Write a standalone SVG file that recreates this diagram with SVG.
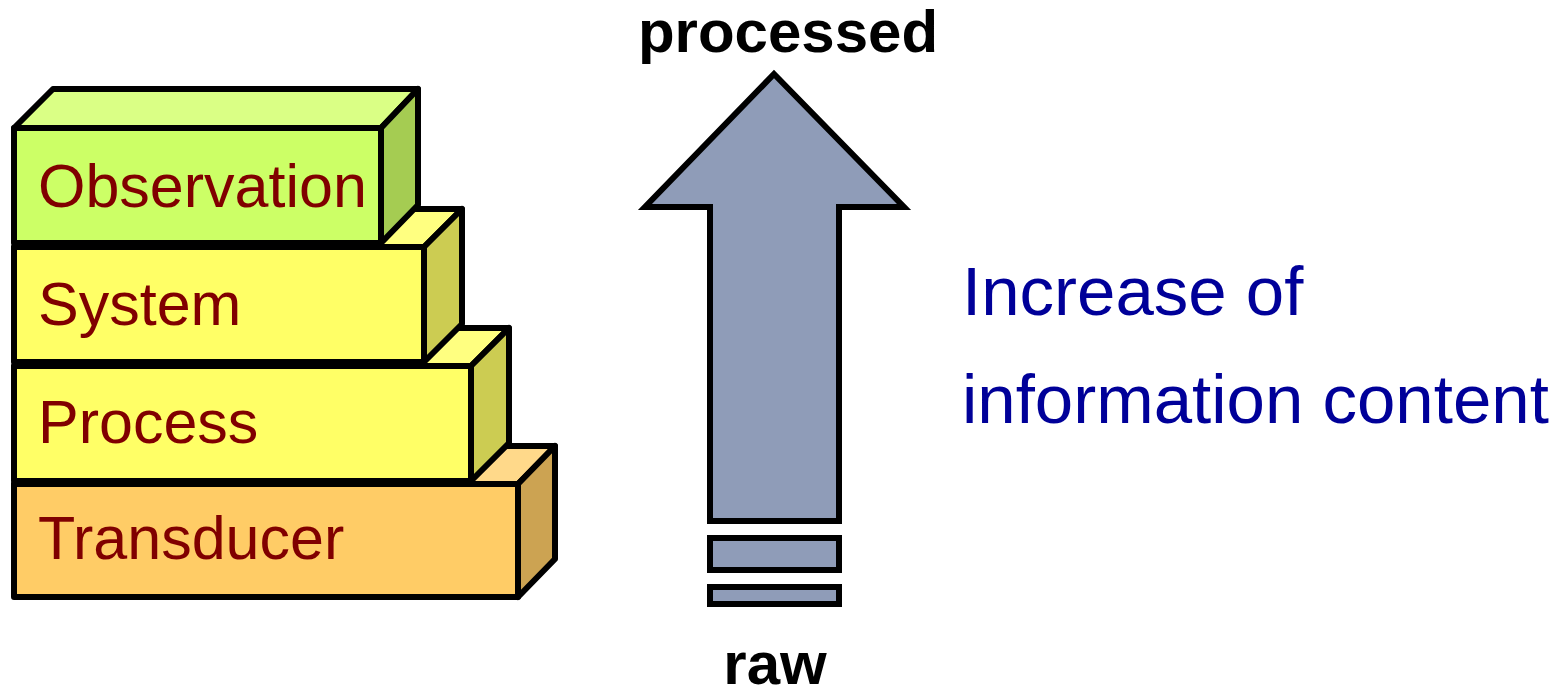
<svg xmlns="http://www.w3.org/2000/svg" width="1563" height="692" viewBox="0 0 1563 692">
<style>
.s{stroke:#000;stroke-width:6;stroke-linejoin:round}
.lbl{font-family:"Liberation Sans",Arial,sans-serif;font-size:61px;fill:#800000}
.bold{font-family:"Liberation Sans",Arial,sans-serif;font-weight:bold;font-size:60px;fill:#000;text-anchor:middle}
.info{font-family:"Liberation Sans",Arial,sans-serif;font-size:69px;fill:#000099}
</style>
<rect width="1563" height="692" fill="#fff"/>
<g id="transducer">
<polygon class="s" points="14,484 52,446 555,446 518,484" fill="#FFD98A"/>
<polygon class="s" points="518,484 555,446 555,559 518,597" fill="#CCA352"/>
<rect class="s" x="14" y="484" width="504" height="113" fill="#FFCC66"/>
<text class="lbl" x="38" y="559">Transducer</text>
</g>
<g id="process">
<polygon class="s" points="14,366 52,328 509,328 471,366" fill="#FFFF80"/>
<polygon class="s" points="471,366 509,328 509,443 471,481" fill="#CCCC52"/>
<rect class="s" x="14" y="366" width="457" height="115" fill="#FFFF66"/>
<text class="lbl" x="38" y="443">Process</text>
</g>
<g id="system">
<polygon class="s" points="14,247 52,209 462,209 424,247" fill="#FFFF80"/>
<polygon class="s" points="424,247 462,209 462,324 424,362" fill="#CCCC52"/>
<rect class="s" x="14" y="247" width="410" height="115" fill="#FFFF66"/>
<text class="lbl" x="38" y="325">System</text>
</g>
<g id="observation">
<polygon class="s" points="14,128 53,89 418,89 381,128" fill="#DAFF85"/>
<polygon class="s" points="381,128 418,89 418,205 381,243" fill="#A5CC52"/>
<rect class="s" x="14" y="128" width="367" height="115" fill="#CCFF66"/>
<text class="lbl" x="38" y="207">Observation</text>
</g>
<g id="arrow">
<polygon class="s" style="stroke-linejoin:miter" points="774,74 904,207 839,207 839,521 710,521 710,207 645,207" fill="#8F9CB8"/>
<rect class="s" style="stroke-linejoin:miter" x="710" y="538" width="129" height="32" fill="#8F9CB8"/>
<rect class="s" style="stroke-linejoin:miter" x="710" y="587" width="129" height="17" fill="#8F9CB8"/>
</g>
<g id="labels">
<text class="bold" x="788" y="52">processed</text>
<text class="bold" x="775" y="684">raw</text>
<text class="info" x="962" y="315">Increase of</text>
<text class="info" x="962" y="423">information content</text>
</g>
</svg>
